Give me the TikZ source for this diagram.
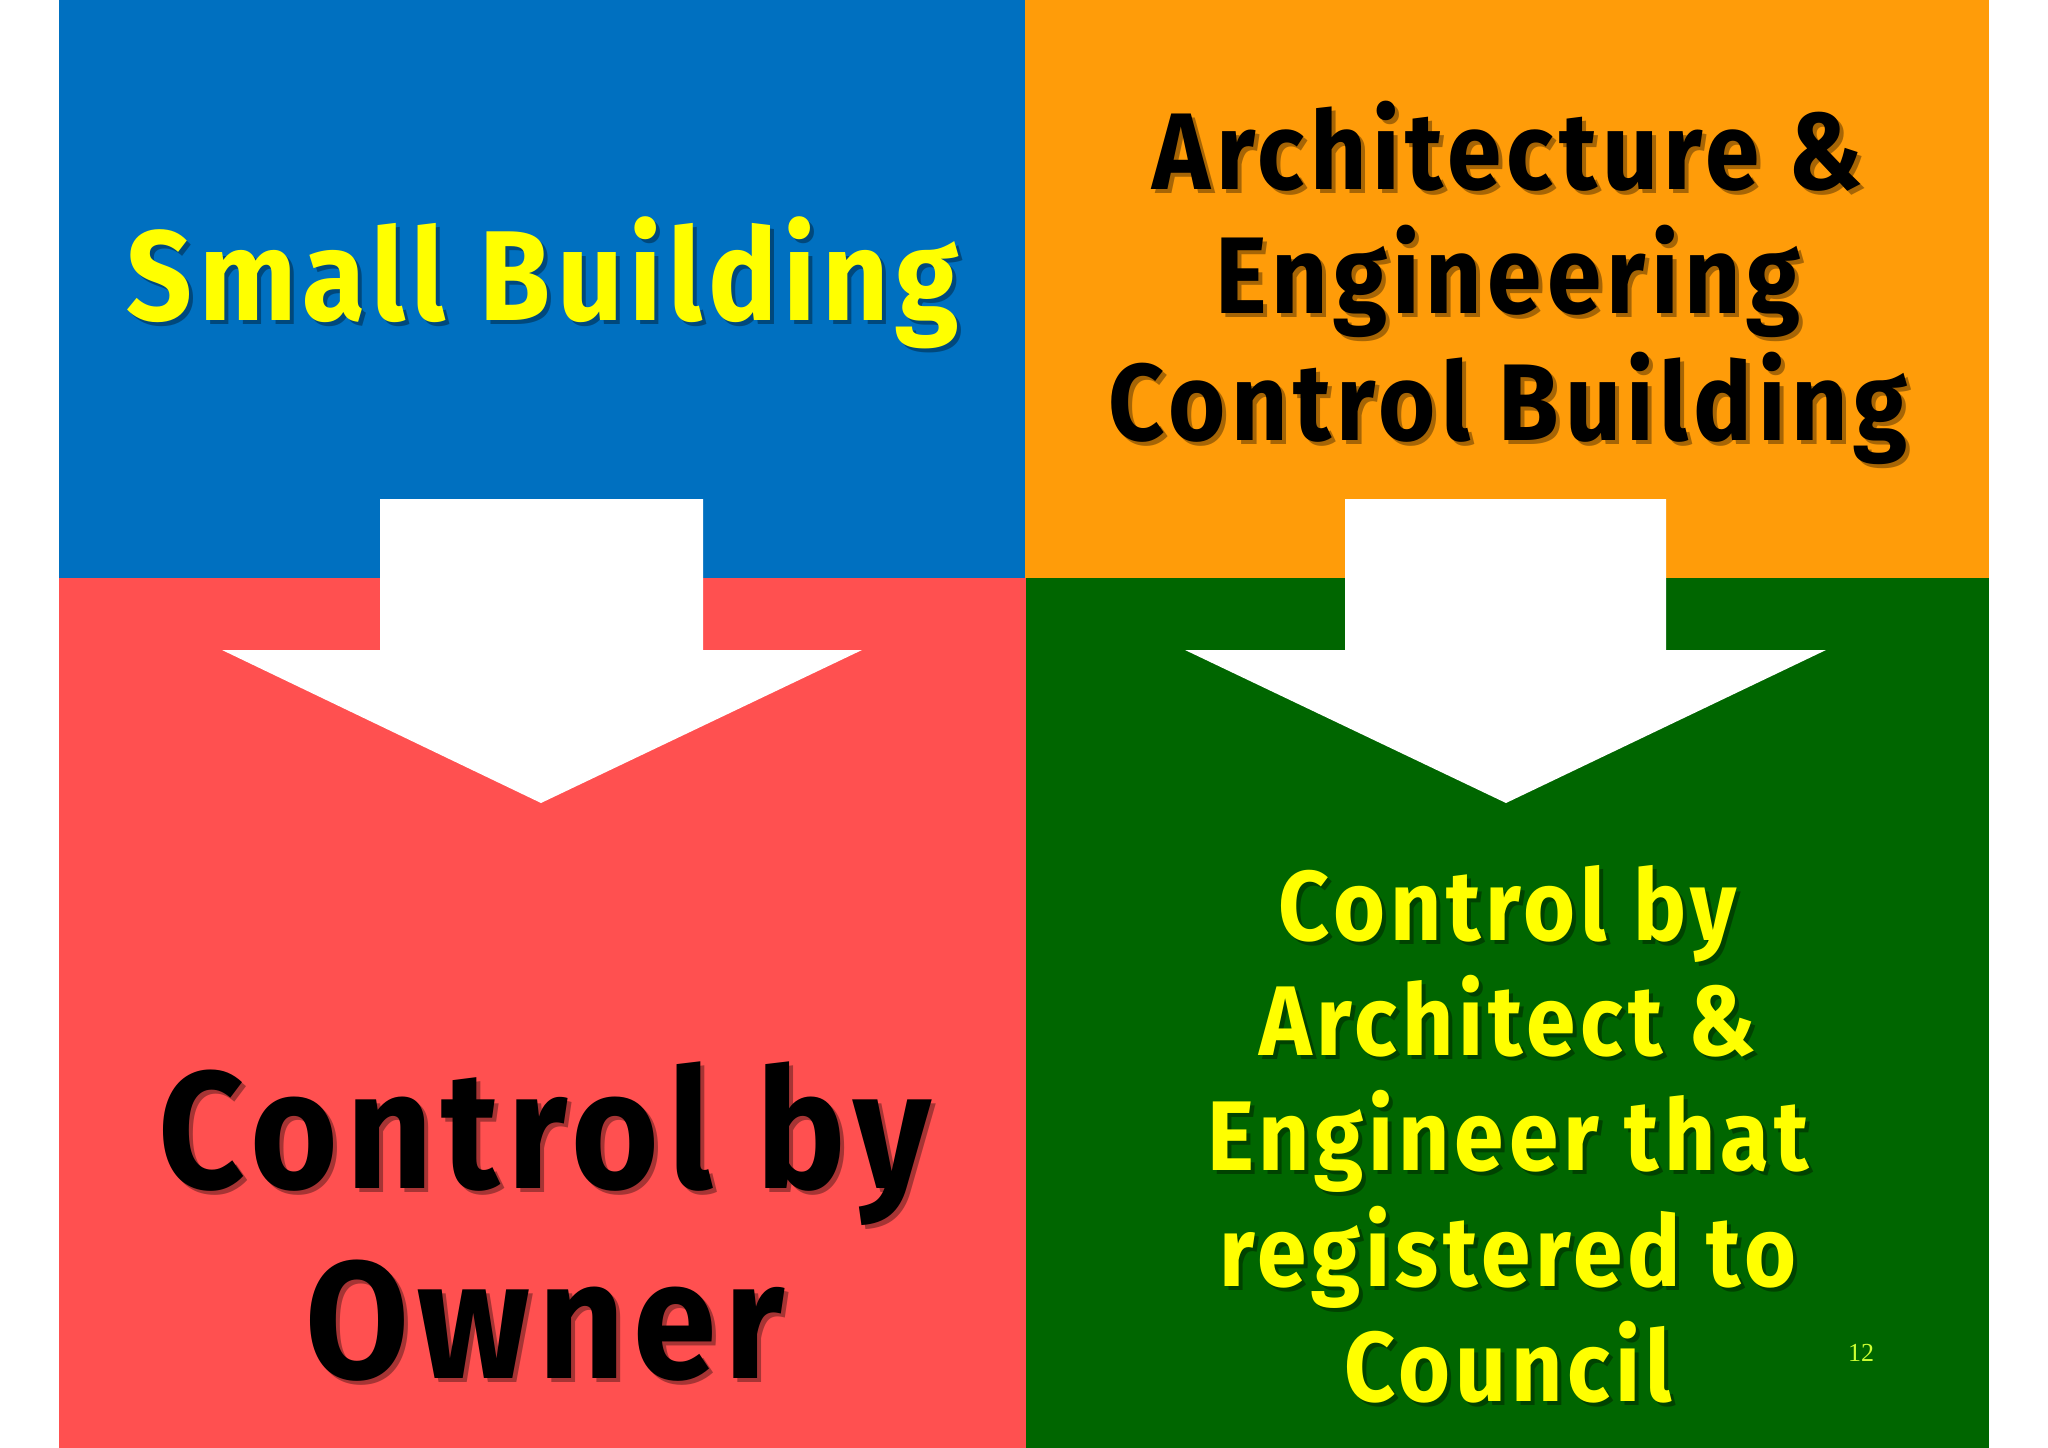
\documentclass[tikz,border=0pt]{standalone}
\usepackage{fontspec}
\setmainfont{Fira Sans}[FakeStretch=0.9, LetterSpace=5]
\newfontfamily\numfont{Liberation Serif}
\definecolor{pblue}{HTML}{0070C0}
\definecolor{porange}{HTML}{FF9C09}
\definecolor{pred}{HTML}{FF5050}
\definecolor{pgreen}{HTML}{006600}
\definecolor{pyellow}{HTML}{FFFF00}
\definecolor{pnum}{HTML}{CCFF33}
\tikzset{
  panel/.style={draw=none},
  bigarrow/.style={fill=white, draw=none},
  txt/.style={anchor=base, inner sep=0pt, font=\bfseries},
  shadow/.style={txt, text=black, opacity=0.35},
}
% name, x, y (baseline), size, colour, text
\newcommand{\shline}[6]{%
  \node[shadow, font=\bfseries\fontsize{#4}{#4}\selectfont] (#1s) at (#2+4,#3+4) {#6};
  \node[txt, text=#5, font=\bfseries\fontsize{#4}{#4}\selectfont] (#1) at (#2,#3) {#6};
}
\begin{document}
\begin{tikzpicture}[x=1pt,y=-1pt]
\useasboundingbox (0,0) rectangle (2048,1448);
\fill[white] (0,0) rectangle (2048,1448);
% panels
\fill[pblue]   (59,0) rectangle (1025,578);
\fill[porange] (1025,0) rectangle (1989,578);
\fill[pred]    (59,578) rectangle (1026,1448);
\fill[pgreen]  (1026,578) rectangle (1989,1448);
% arrows
\fill[bigarrow] (380,499) -- (703,499) -- (703,650) -- (862,650) -- (541,803) -- (222,650) -- (380,650) -- cycle;
\fill[bigarrow] (1345,499) -- (1666,499) -- (1666,650) -- (1826,650) -- (1506,803) -- (1185,650) -- (1345,650) -- cycle;
% texts
\shline{sb}{543}{320}{128}{pyellow}{Small Building}
\shline{ae1}{1508}{189}{109}{black}{Architecture \&}
\shline{ae2}{1508}{313}{109}{black}{Engineering}
\shline{ae3}{1508}{440}{109}{black}{Control Building}
\shline{co1}{545}{1188}{167}{black}{Control by}
\shline{co2}{545}{1378}{167}{black}{Owner}
\shline{ca1}{1508}{940}{99}{pyellow}{Control by}
\shline{ca2}{1508}{1055}{99}{pyellow}{Architect \&}
\shline{ca3}{1508}{1170}{99}{pyellow}{Engineer that}
\shline{ca4}{1508}{1286}{99}{pyellow}{registered to}
\shline{ca5}{1508}{1401}{99}{pyellow}{Council}
\node[anchor=base, inner sep=0pt, text=pnum, font=\numfont\fontsize{26}{26}\selectfont] (pg) at (1861,1361) {12};
\end{tikzpicture}
\end{document}
